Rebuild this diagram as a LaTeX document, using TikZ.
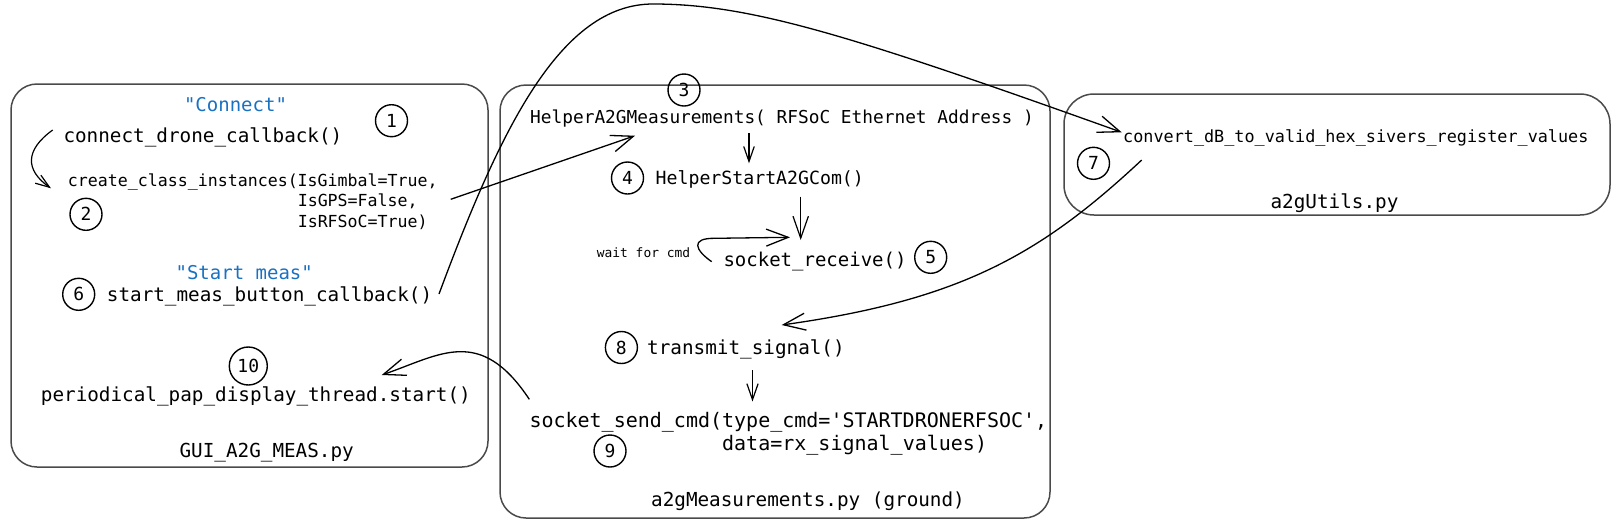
\documentclass[tikz,border=0pt]{standalone}
\usepackage{fontspec}
\setmonofont{DejaVu Sans Mono}
\usetikzlibrary{arrows.meta}
\definecolor{btnblue}{HTML}{1971C2}
\definecolor{boxgray}{HTML}{4A4A4A}
\newcommand{\mono}[1]{\fontsize{#1}{#1}\selectfont\ttfamily}

\begin{document}
\begin{tikzpicture}[x=1pt,y=-1pt,
  box/.style={draw=boxgray, line width=1.5pt, inner sep=0pt, rounded corners=26pt},
  code/.style={anchor=base west, inner sep=0pt, font=\mono{#1}, yshift={-0.365*#1pt}},
  code/.default=19.3,
  title/.style={code=19, anchor=base, text=btnblue},
  num/.style={circle, draw, line width=1.4pt, minimum size=32pt, inner sep=0pt, font=\mono{18}},
  link/.style={line width=1.3pt, -{Straight Barb[length=22pt,width=17pt]}},
  down/.style={line width=1.2pt, -{Straight Barb[length=#1,width=0.7*#1]}},
  down/.default=15pt]
\useasboundingbox (0,0) rectangle (1619,531);

% files
\node[box, minimum width=477pt, minimum height=383pt] (gui) at (249.5,275.5) {};
\node[box, minimum width=550pt, minimum height=433pt] (meas) at (775,301.5) {};
\node[box, rounded corners=30pt, minimum width=546pt, minimum height=121pt] (utils) at (1337,154.5) {};

% GUI_A2G_MEAS.py
\node[title] (connect) at (235.5,105) {"Connect"};
\node[num] (n1) at (391.5,120.7) {1};
\node[code] (drone) at (63.3,135) {connect\_drone\_callback()};
\node[code=16.6] (create) at (67.7,180) {create\_class\_instances(IsGimbal=True,};
\node[code=16.6] (gps) at (67.7,200.7) {\phantom{create\_class\_instances(}IsGPS=False,};
\node[code=16.6] (rfsoc) at (67.7,221.7) {\phantom{create\_class\_instances(}IsRFSoC=True)};
\node[num] (n2) at (86,214.3) {2};
\node[title] (startlbl) at (244.2,272.7) {"Start meas"};
\node[num] (n6) at (78.7,294.3) {6};
\node[code] (startcb) at (106.7,294.3) {start\_meas\_button\_callback()};
\node[num, minimum size=38pt] (n10) at (248.3,366) {10};
\node[code] (display) at (40.7,394) {periodical\_pap\_display\_thread.start()};
\node[code, anchor=base] (guifile) at (266.7,450) {GUI\_A2G\_MEAS.py};

% a2gMeasurements.py
\node[num] (n3) at (684,90) {3};
\node[code=17.8] (helper) at (530,116.7) {HelperA2GMeasurements( RFSoC Ethernet Address )};
\node[num] (n4) at (627.5,178) {4};
\node[code=18.2] (startcom) at (655.5,178) {HelperStartA2GCom()};
\node[code=12.9] (wait) at (596.7,252.3) {wait for cmd};
\node[code=19] (receive) at (723.3,260) {socket\_receive()};
\node[num] (n5) at (930.7,257.3) {5};
\node[num] (n8) at (621.4,347.5) {8};
\node[code] (transmit) at (647,347.5) {transmit\_signal()};
\node[code=20] (send) at (529.3,420) {socket\_send\_cmd(type\_cmd='STARTDRONERFSOC',};
\node[code=20] (senddata) at (529.3,443.3) {\phantom{socket\_send\_cmd(}data=rx\_signal\_values)};
\node[num] (n9) at (610,451) {9};
\node[code, anchor=base] (measfile) at (808,499.3) {a2gMeasurements.py (ground)};

% a2gUtils.py
\node[code=16.8] (convert) at (1123,136.7) {convert\_dB\_to\_valid\_hex\_sivers\_register\_values};
\node[num] (n7) at (1093.5,163.3) {7};
\node[code, anchor=base] (utilsfile) at (1334.5,201.7) {a2gUtils.py};

% connector ends
\coordinate (droneout) at (52.7,130);
\coordinate (createin) at (51,188.3);
\coordinate (createout) at (450.7,199.3);
\coordinate (helperin) at (635,135.7);
\coordinate (startout) at (439,294);
\coordinate (peak) at (653,4);
\coordinate (convertin) at (1121.7,132.3);
\coordinate (convertout) at (1141.7,160);
\coordinate (transmitin) at (781.7,325);
\coordinate (sendout) at (529.3,399.3);
\coordinate (displayin) at (381.7,375);
\coordinate (waitout) at (711.7,261.7);
\coordinate (waitturn) at (715,238.3);
\coordinate (receivein) at (790,237.3);

\draw[down=14pt] (droneout) .. controls (25,150) and (25,170) .. (createin);
\draw[link] (createout) -- (helperin);
\draw[link] (startout) .. controls (500,130) and (560,4) .. (peak)
  .. controls (750,4) and (850,35) .. (convertin);
\draw[link] (convertout) .. controls (1040,255) and (960,300) .. (transmitin);
\draw[link] (sendout) .. controls (480,325) and (440,355) .. (displayin);
\draw[link] (waitout) .. controls (695,250) and (690,238) .. (waitturn) -- (receivein);
\draw[down] (749,133) -- (749,163.3);
\draw[down=22pt] (800.7,196.7) -- (800.7,240);
\draw[down=16pt] (752.5,370) -- (752.5,401.5);
\end{tikzpicture}
\end{document}
